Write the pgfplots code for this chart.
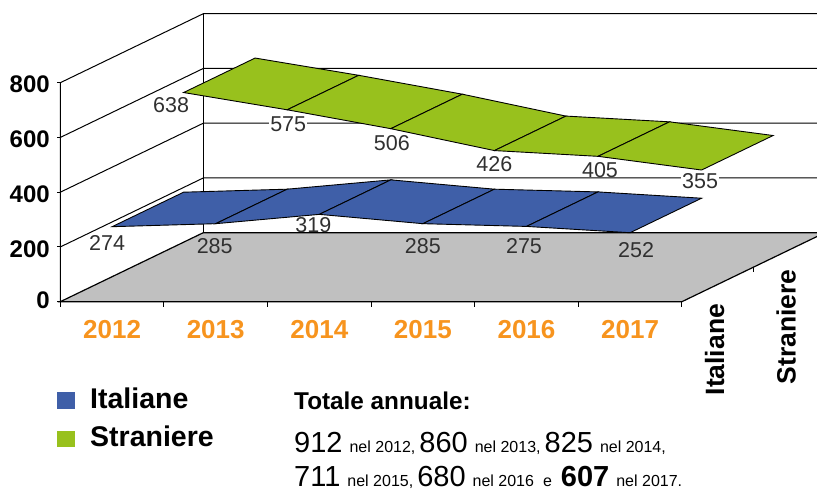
\documentclass[border=0pt]{standalone}
\usepackage{fontspec}
\setmainfont{Liberation Sans}
\usepackage{pgfplots}
\pgfplotsset{compat=1.18}
\definecolor{cblue}{HTML}{3F5FA8}
\definecolor{cgreen}{HTML}{98C11D}
\definecolor{cgray}{HTML}{C0C0C0}
\definecolor{corange}{HTML}{F7941E}
\definecolor{clab}{HTML}{303030}
\newcommand{\fs}[1]{\fontsize{#1pt}{#1pt}\selectfont}
\newcommand{\lab}[4]{\node[text=clab,font=\fs{21.5},inner sep=1pt,#4] at (axis cs:#1,#2,#3) {\pgfmathprintnumber[assume math mode=true]{#3}};}
\begin{document}
\begin{tikzpicture}[x=1pt,y=1pt]
\useasboundingbox (0,0) rectangle (817,493);
\clip (0,0) rectangle (817,493);
\begin{axis}[
  at={(60.3pt,191.3pt)}, anchor=origin,
  x={(103.6pt,0pt)}, y={(143pt,69pt)}, z={(0pt,0.27375pt)},
  xmin=0, xmax=6, ymin=0, ymax=1, zmin=0, zmax=800,
  clip=false,
  axis line style={draw=none},
  /pgf/number format/assume math mode=true,
  xtick={0.5,1.5,2.5,3.5,4.5,5.5},
  xticklabels={2012,2013,2014,2015,2016,2017},
  xticklabel style={text=corange,font=\fs{26}\bfseries,xshift=8pt,yshift=-15pt},
  ytick={0.25,0.75},
  yticklabels={Italiane,Straniere},
  yticklabel style={rotate=90,anchor=east,font=\fs{26.5}\bfseries,xshift=-16pt,yshift=3pt},
  ztick={0,200,400,600,800},
  zticklabel style={font=\fs{24}\bfseries,xshift=-7pt,yshift=3.5pt},
  major tick length=0pt,
  tick pos=left,
]
% floor
\addplot3[fill=cgray,draw=black,line width=1.2pt] coordinates {(0,0,0) (6,0,0) (6,1,0) (0,1,0)} -- cycle;
% walls and grid
\addplot3[black,line width=1pt] coordinates {(0,0,0) (0,0,800) (0,1,800) (6,1,800)};
\addplot3[black,line width=1pt] coordinates {(0,1,0) (0,1,800)};
\addplot3[black,line width=1pt] coordinates {(0,0,200) (0,1,200) (6,1,200)};
\addplot3[black,line width=1pt] coordinates {(0,0,400) (0,1,400) (6,1,400)};
\addplot3[black,line width=1pt] coordinates {(0,0,600) (0,1,600) (6,1,600)};
% tick marks
\addplot3[black,line width=1pt] coordinates {(0,0,0) (-0.03,0,0)};
\addplot3[black,line width=1pt] coordinates {(0,0,200) (-0.03,0,200)};
\addplot3[black,line width=1pt] coordinates {(0,0,400) (-0.03,0,400)};
\addplot3[black,line width=1pt] coordinates {(0,0,600) (-0.03,0,600)};
\addplot3[black,line width=1pt] coordinates {(0,0,800) (-0.03,0,800)};
\addplot3[black,line width=1pt] coordinates {(0,0,0) (0,0,-18)};
\addplot3[black,line width=1pt] coordinates {(1,0,0) (1,0,-18)};
\addplot3[black,line width=1pt] coordinates {(2,0,0) (2,0,-18)};
\addplot3[black,line width=1pt] coordinates {(3,0,0) (3,0,-18)};
\addplot3[black,line width=1pt] coordinates {(4,0,0) (4,0,-18)};
\addplot3[black,line width=1pt] coordinates {(5,0,0) (5,0,-18)};
\addplot3[black,line width=1pt] coordinates {(6,0,0) (6,0,-18)};
\addplot3[black,line width=1pt] coordinates {(6,0.5,0) (6,0.5,-18)};
% Italiane
\addplot3[fill=cblue,draw=black,line width=0.9pt] coordinates {(0.5,0,274) (1.5,0,285) (1.5,0.5,285) (0.5,0.5,274)} -- cycle;
\addplot3[fill=cblue,draw=black,line width=0.9pt] coordinates {(1.5,0,285) (2.5,0,319) (2.5,0.5,319) (1.5,0.5,285)} -- cycle;
\addplot3[fill=cblue,draw=black,line width=0.9pt] coordinates {(2.5,0,319) (3.5,0,285) (3.5,0.5,285) (2.5,0.5,319)} -- cycle;
\addplot3[fill=cblue,draw=black,line width=0.9pt] coordinates {(3.5,0,285) (4.5,0,275) (4.5,0.5,275) (3.5,0.5,285)} -- cycle;
\addplot3[fill=cblue,draw=black,line width=0.9pt] coordinates {(4.5,0,275) (5.5,0,252) (5.5,0.5,252) (4.5,0.5,275)} -- cycle;
% Straniere
\addplot3[fill=cgreen,draw=black,line width=0.9pt] coordinates {(0.5,0.5,638) (1.5,0.5,575) (1.5,1,575) (0.5,1,638)} -- cycle;
\addplot3[fill=cgreen,draw=black,line width=0.9pt] coordinates {(1.5,0.5,575) (2.5,0.5,506) (2.5,1,506) (1.5,1,575)} -- cycle;
\addplot3[fill=cgreen,draw=black,line width=0.9pt] coordinates {(2.5,0.5,506) (3.5,0.5,426) (3.5,1,426) (2.5,1,506)} -- cycle;
\addplot3[fill=cgreen,draw=black,line width=0.9pt] coordinates {(3.5,0.5,426) (4.5,0.5,405) (4.5,1,405) (3.5,1,426)} -- cycle;
\addplot3[fill=cgreen,draw=black,line width=0.9pt] coordinates {(4.5,0.5,405) (5.5,0.5,355) (5.5,1,355) (4.5,1,405)} -- cycle;
% data labels
\lab{0.5}{0}{274}{xshift=-5pt,yshift=-16pt}
\lab{1.5}{0}{285}{xshift=-1pt,yshift=-22pt}
\lab{2.5}{0}{319}{xshift=-6pt,yshift=-11pt}
\lab{3.5}{0}{285}{xshift=0pt,yshift=-22pt}
\lab{4.5}{0}{275}{xshift=-2.5pt,yshift=-20pt}
\lab{5.5}{0}{252}{xshift=6pt,yshift=-17pt}
\lab{0.5}{0.5}{638}{xshift=-12.5pt,yshift=-13pt}
\lab{1.5}{0.5}{575}{xshift=1pt,yshift=-14pt,fill=white}
\lab{2.5}{0.5}{506}{xshift=1pt,yshift=-14pt}
\lab{3.5}{0.5}{426}{xshift=0pt,yshift=-13.5pt}
\lab{4.5}{0.5}{405}{xshift=2pt,yshift=-14pt}
\lab{5.5}{0.5}{355}{xshift=-1.5pt,yshift=-11pt,fill=white}
\end{axis}
% legend
\fill[cblue] (57,84) rectangle (75,101);
\fill[cgreen] (57,45.5) rectangle (75,62);
\node[anchor=base west,inner sep=0pt,font=\fs{28.5}\bfseries] at (90,84.5) {Italiane};
\node[anchor=base west,inner sep=0pt,font=\fs{28.5}\bfseries] at (90,46) {Straniere};
\node[anchor=base west,inner sep=0pt,font=\fs{24.3}\bfseries] at (294,83) {Totale annuale:};
\node[anchor=base west,inner sep=0pt,font=\fs{29}] at (294,41) {912\kern7pt{\fs{16}nel 2012,}\kern4pt860\kern7pt{\fs{16}nel 2013,}\kern4pt825\kern7pt{\fs{16}nel 2014,}};
\node[anchor=base west,inner sep=0pt,font=\fs{29}] at (294,6.2) {711\kern7pt{\fs{16}nel 2015,}\kern4pt680\kern7pt{\fs{16}nel 2016\kern9pt e}\kern9pt{\bfseries 607}\kern7pt{\fs{16}nel 2017.}};
\end{tikzpicture}
\end{document}
